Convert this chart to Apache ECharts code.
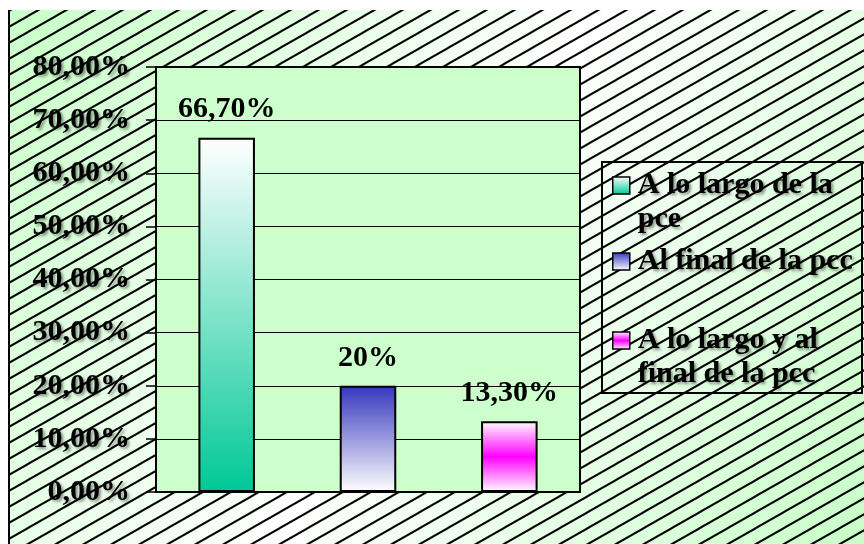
<!DOCTYPE html>
<html>
<head>
<meta charset="utf-8">
<script src="https://cdn.jsdelivr.net/npm/echarts@6/dist/echarts.min.js"></script>
<style>
  html, body { margin: 0; padding: 0; background: #ffffff; }
  #chart { width: 864px; height: 544px; }
</style>
</head>
<body>
<div id="chart"></div>
<script>
// Momento de aplicación (porcentaje de respuestas)
const categories = ['A lo largo de la pce', 'Al final de la pcc', 'A lo largo y al final de la pcc'];
const values = [66.7, 20, 13.3];
const valueLabels = ['66,70%', '20%', '13,30%'];
const legendLines = [['A lo largo de la', 'pce'], ['Al final de la pcc'], ['A lo largo y al', 'final de la pcc']];
const yMin = 0, yMax = 80, yStep = 10;

const SERIF = '"Liberation Serif", "Times New Roman", serif';

const barFills = [
  { type: 'linear', x: 0, y: 0, x2: 0, y2: 1, colorStops: [
    { offset: 0, color: '#ffffff' }, { offset: 1, color: '#00c896' } ] },
  { type: 'linear', x: 0, y: 0, x2: 0, y2: 1, colorStops: [
    { offset: 0, color: '#3535bd' }, { offset: 1, color: '#ffffff' } ] },
  { type: 'linear', x: 0, y: 0, x2: 0, y2: 1, colorStops: [
    { offset: 0, color: '#ffffff' }, { offset: 0.5, color: '#ff00ff' }, { offset: 1, color: '#ffffff' } ] }
];

// diagonal hatching tile for the chart area
function hatchTile() {
  const w = 28, h = 16;
  const c = document.createElement('canvas');
  c.width = w; c.height = h;
  const ctx = c.getContext('2d');
  ctx.strokeStyle = '#000000';
  ctx.lineWidth = 2;
  for (let k = -1; k <= 1; k++) {
    ctx.beginPath();
    ctx.moveTo(-w, 2 * h + k * h);
    ctx.lineTo(2 * w, -h + k * h);
    ctx.stroke();
  }
  return c;
}

const shadowText = {
  textShadowColor: 'rgba(0,0,0,0.45)',
  textShadowBlur: 3,
  textShadowOffsetX: 2,
  textShadowOffsetY: 2
};

const series = categories.map((name, i) => ({
  name: name,
  type: 'bar',
  stack: 'total',
  barWidth: '40%',
  data: values.map((v, j) => (j === i ? v : null)),
  itemStyle: { color: barFills[i], borderColor: '#000000', borderWidth: 2 },
  label: {
    show: true,
    position: 'top',
    distance: 13,
    formatter: () => valueLabels[i],
    fontFamily: SERIF,
    fontWeight: 'bold',
    fontSize: 30,
    color: '#000000'
  },
  emphasis: { disabled: true }
}));

// The legend icon sits beside the first line of a wrapped entry:
// an empty leading line keeps that first line at the icon's centre.
const LH = 34;
function legendFor(i, top) {
  const lines = legendLines[i];
  const text = lines.length > 1 ? '\n' + lines.join('\n') : lines[0];
  return {
    data: [categories[i]],
    orient: 'vertical',
    left: 612,
    top: top,
    padding: 0,
    icon: 'rect',
    itemWidth: 17,
    itemHeight: 17,
    itemStyle: { borderColor: '#000000', borderWidth: 1.5 },
    formatter: () => text,
    selectedMode: false,
    textStyle: Object.assign({
      fontFamily: SERIF,
      fontWeight: 'bold',
      fontSize: 30,
      lineHeight: LH,
      color: '#000000',
      padding: [0, 0, 0, 3]
    }, shadowText)
  };
}

const chart = echarts.init(document.getElementById('chart'));
chart.setOption({
  animation: false,
  backgroundColor: '#ffffff',
  graphic: [
    {
      type: 'rect', z: -10, silent: true,
      shape: { x: 8, y: 10, width: 856, height: 534 },
      style: { fill: { type: 'linear', x: 0, y: 0, x2: 1, y2: 1, colorStops: [
        { offset: 0, color: '#c8ffc8' }, { offset: 0.5, color: '#ffffff' }, { offset: 1, color: '#c8ffc8' } ] } }
    },
    {
      type: 'rect', z: -9, silent: true,
      shape: { x: 8, y: 10, width: 856, height: 534 },
      style: { fill: { image: hatchTile(), repeat: 'repeat' } }
    },
    {
      type: 'line', z: -8, silent: true,
      shape: { x1: 9, y1: 10, x2: 9, y2: 544 },
      style: { stroke: '#000000', lineWidth: 2 }
    },
    {
      type: 'rect', z: 5, silent: true,
      shape: { x: 602, y: 162, width: 260, height: 231 },
      style: { fill: 'none', stroke: '#000000', lineWidth: 2 }
    }
  ],
  grid: {
    left: 156, right: 284, top: 67, bottom: 52,
    show: true,
    backgroundColor: '#ccffcc',
    borderColor: '#000000',
    borderWidth: 2
  },
  legend: [legendFor(0, 134.5), legendFor(1, 244.5), legendFor(2, 289.5)],
  xAxis: {
    type: 'category',
    data: categories,
    axisLine: { show: true, lineStyle: { color: '#000000', width: 2 } },
    axisTick: { show: false },
    axisLabel: { show: false },
    splitLine: { show: false }
  },
  yAxis: {
    type: 'value',
    min: yMin, max: yMax, interval: yStep,
    axisLine: { show: true, lineStyle: { color: '#000000', width: 2 } },
    axisTick: { show: true, length: 10, lineStyle: { color: '#000000', width: 1.5 } },
    splitLine: { show: true, lineStyle: { color: '#000000', width: 1 } },
    axisLabel: Object.assign({
      margin: 26,
      fontFamily: SERIF,
      fontWeight: 'bold',
      fontSize: 30,
      color: '#000000',
      formatter: (v) => v.toFixed(2).replace('.', ',') + '%'
    }, shadowText)
  },
  series: series
});
</script>
</body>
</html>
